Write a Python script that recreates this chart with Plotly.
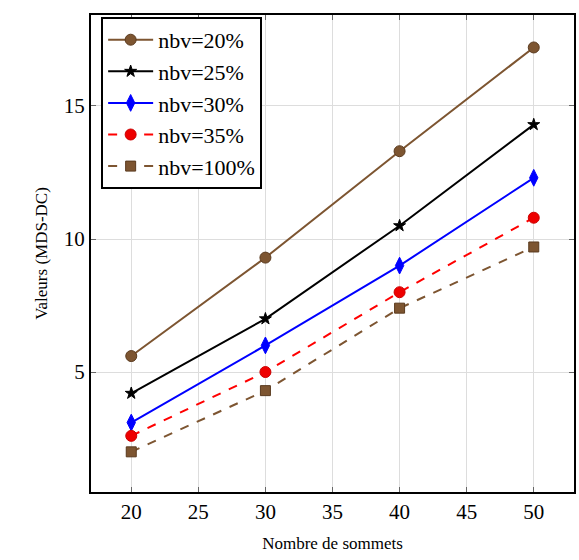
import plotly.graph_objects as go

x_vals = [20, 30, 40, 50]
nbv20 = [5.6, 9.3, 13.3, 17.2]
nbv25 = [4.2, 7.0, 10.5, 14.3]
nbv30 = [3.1, 6.0, 9.0, 12.3]
nbv35 = [2.6, 5.0, 8.0, 10.8]
nbv100 = [2.0, 4.3, 7.4, 9.7]
names = ["nbv=20%", "nbv=25%", "nbv=30%", "nbv=35%", "nbv=100%"]
series = [nbv20, nbv25, nbv30, nbv35, nbv100]

brown = "#7d5531"
styles = [
    dict(color=brown, dash="solid", symbol="circle", size=11, mcolor=brown, lcolor="#5a3a1e"),
    dict(color="black", dash="solid", symbol="star", size=9, mcolor="black", lcolor="black"),
    dict(color="#0000ff", dash="solid", symbol="diamond-tall", size=12, mcolor="#0000ff", lcolor="#0000ff"),
    dict(color="#ff0000", dash="dash", symbol="circle", size=11, mcolor="#ee0000", lcolor="#cc0000"),
    dict(color=brown, dash="dash", symbol="square", size=10, mcolor=brown, lcolor="#5a3a1e"),
]

fig = go.Figure()
for name, ys, st in zip(names, series, styles):
    fig.add_trace(go.Scatter(
        x=x_vals, y=ys, name=name, mode="lines+markers",
        line=dict(color=st["color"], width=2, dash=st["dash"]),
        marker=dict(symbol=st["symbol"], size=st["size"], color=st["mcolor"],
                    line=dict(color=st["lcolor"], width=1)),
    ))

serif = "Liberation Serif"
fnt = lambda s: dict(family=serif, size=s, color="black", weight="normal", style="normal", variant="normal")
fig.update_layout(
    width=579, height=560,
    margin=dict(l=91, r=3, t=15, b=68),
    paper_bgcolor="white", plot_bgcolor="white",
    font=fnt(20),
    showlegend=True,
    legend=dict(x=0.021, y=0.996, xanchor="left", yanchor="top",
                bgcolor="white", bordercolor="black", borderwidth=2,
                font=fnt(22),
                itemwidth=45, tracegroupgap=0),
    xaxis=dict(range=[17.0, 53.0], tickvals=[20, 25, 30, 35, 40, 45, 50],
               showgrid=True, gridcolor="#dddddd", gridwidth=1,
               showline=True, linecolor="black", linewidth=2, mirror="ticks",
               ticks="inside", ticklen=5, tickcolor="#666666", zeroline=False,
               tickfont=fnt(21),
               title=dict(text="Nombre de sommets", font=fnt(17), standoff=14)),
    yaxis=dict(range=[0.49, 18.42], tickvals=[5, 10, 15],
               showgrid=True, gridcolor="#dddddd", gridwidth=1,
               showline=True, linecolor="black", linewidth=2, mirror="ticks",
               ticks="inside", ticklen=5, tickcolor="#666666", zeroline=False,
               tickfont=fnt(21),
               title=dict(text="Valeurs (MDS-DC)", font=fnt(17), standoff=12)),
)

fig.write_html("out.html")
